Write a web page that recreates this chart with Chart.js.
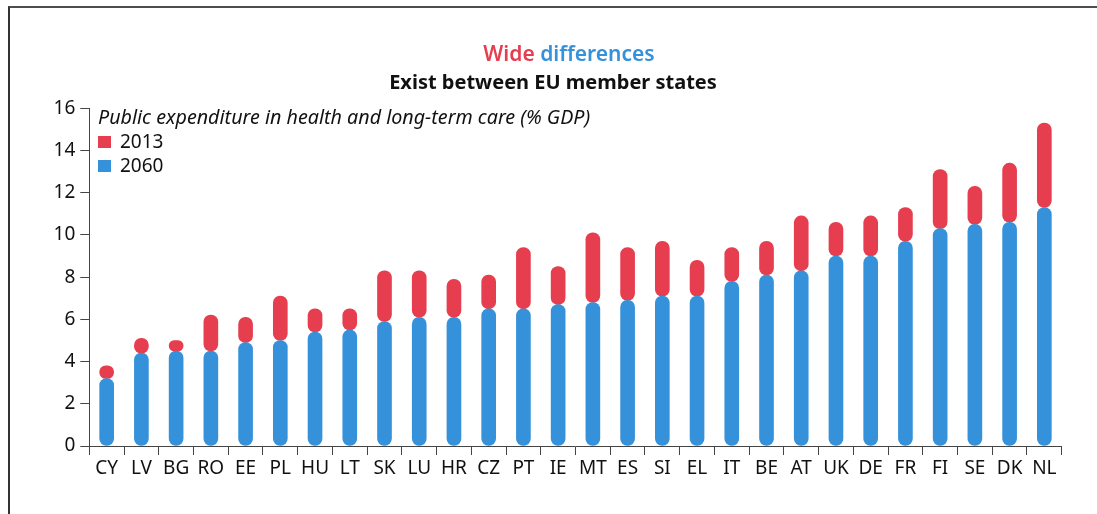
<!DOCTYPE html>
<html>
<head>
<meta charset="utf-8">
<script src="https://cdn.jsdelivr.net/npm/chart.js@4"></script>
<style>
  html, body { margin: 0; padding: 0; background: #fff; overflow: hidden; }
  #wrap { position: relative; width: 1097px; height: 514px; overflow: hidden; }
  #frame { position: absolute; left: 8px; top: 6px; width: 1200px; height: 600px;
           border-top: 2px solid #4d4d4d; border-left: 2px solid #333; pointer-events: none; }
  canvas { position: absolute; left: 0; top: 0; }
</style>
</head>
<body>
<div id="wrap">
  <canvas id="c" width="1097" height="514"></canvas>
  <div id="frame"></div>
</div>
<script>
const categories = ["CY","LV","BG","RO","EE","PL","HU","LT","SK","LU","HR","CZ","PT","IE","MT","ES","SI","EL","IT","BE","AT","UK","DE","FR","FI","SE","DK","NL"];
// blue bars (legend "2060"), from 0
const blueValues = [3.2,4.4,4.5,4.5,4.9,5.0,5.4,5.5,5.9,6.1,6.1,6.5,6.5,6.7,6.8,6.9,7.1,7.1,7.8,8.1,8.3,9.0,9.0,9.7,10.3,10.5,10.6,11.3];
// red bars (legend "2013"), top of the red segment
const redValues = [3.8,5.1,5.0,6.2,6.1,7.1,6.5,6.5,8.3,8.3,7.9,8.1,9.4,8.5,10.1,9.4,9.7,8.8,9.4,9.7,10.9,10.6,10.9,11.3,13.1,12.3,13.4,15.3];
const yTicks = [0,2,4,6,8,10,12,14,16];
const legendLabels = ["2013","2060"];
const titleWords = ["Wide","differences"];
const titleLine2 = "Exist between EU member states";
const subtitle = "Public expenditure in health and long-term care (% GDP)";

const RED = "#e63e4f";
const BLUE = "#3592da";
const FONT = "'Noto Sans', 'Open Sans', sans-serif";

const textPlugin = {
  id: 'texts',
  afterDraw(chart) {
    const ctx = chart.ctx;
    ctx.save();
    ctx.textBaseline = 'alphabetic';
    // title line 1 (two colours)
    ctx.font = "600 21px " + FONT;
    const w1 = ctx.measureText(titleWords[0] + " ").width;
    const w2 = ctx.measureText(titleWords[1]).width;
    let x = 569 - (w1 + w2) / 2;
    ctx.textAlign = 'left';
    ctx.fillStyle = RED;
    ctx.fillText(titleWords[0], x, 61);
    ctx.fillStyle = BLUE;
    ctx.fillText(titleWords[1], x + w1, 61);
    // title line 2
    ctx.font = "bold 20px " + FONT;
    ctx.fillStyle = "#111";
    ctx.textAlign = 'center';
    ctx.fillText(titleLine2, 553, 89);
    // subtitle
    ctx.textAlign = 'left';
    ctx.font = "italic 19.7px " + FONT;
    ctx.fillStyle = "#111";
    ctx.fillText(subtitle, 98, 124);
    // legend
    ctx.font = "19px " + FONT;
    ctx.fillStyle = RED;
    ctx.fillRect(98, 136, 13, 12);
    ctx.fillStyle = "#111";
    ctx.fillText(legendLabels[0], 120, 148);
    ctx.fillStyle = BLUE;
    ctx.fillRect(98, 160, 13, 12);
    ctx.fillStyle = "#111";
    ctx.fillText(legendLabels[1], 120, 172);
    ctx.restore();
  }
};

new Chart(document.getElementById('c'), {
  type: 'bar',
  data: {
    labels: categories,
    datasets: [
      {
        label: legendLabels[1],
        data: blueValues,
        backgroundColor: BLUE,
        barThickness: 14,
        borderRadius: 7,
        borderSkipped: false,
        grouped: false,
        order: 0
      },
      {
        label: legendLabels[0],
        data: blueValues.map((b, i) => [b, redValues[i]]),
        backgroundColor: RED,
        barThickness: 14,
        borderRadius: 7,
        borderSkipped: false,
        grouped: false,
        order: 1
      }
    ]
  },
  options: {
    responsive: false,
    animation: false,
    layout: { padding: { left: 0, right: 35.3, top: 108.3, bottom: 0 } },
    plugins: { legend: { display: false }, tooltip: { enabled: false }, title: { display: false } },
    scales: {
      x: {
        offset: true,
        grid: { display: true, offset: true, drawOnChartArea: false, tickLength: 9, color: '#444' },
        border: { display: true, color: '#444', width: 1 },
        ticks: { color: '#111', font: { family: FONT, size: 19 }, padding: 2, maxRotation: 0, autoSkip: false },
        afterFit(s) { s.height = 68; }
      },
      y: {
        min: 0, max: 16,
        afterBuildTicks(s) { s.ticks = yTicks.map(v => ({ value: v })); },
        grid: { display: true, drawOnChartArea: false, tickLength: 9, color: '#444' },
        border: { display: true, color: '#444', width: 1 },
        ticks: { color: '#111', font: { family: FONT, size: 19 }, padding: 5 },
        afterFit(s) { s.width = 89.3; }
      }
    }
  },
  plugins: [textPlugin]
});
</script>
</body>
</html>
